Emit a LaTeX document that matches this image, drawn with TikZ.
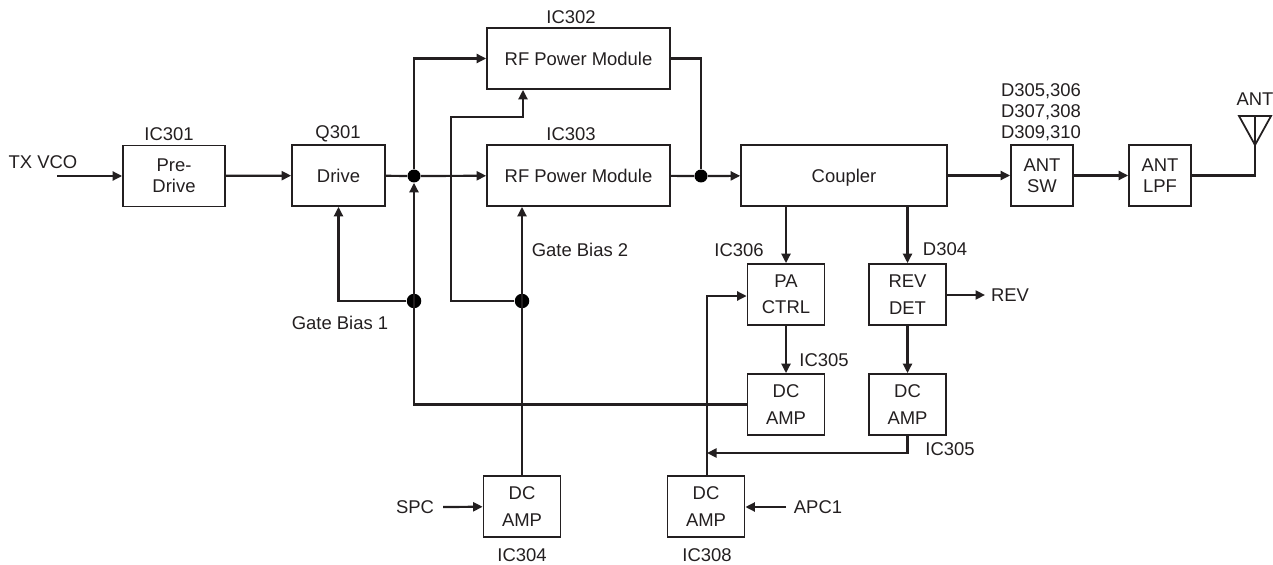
\documentclass[tikz,border=0pt]{standalone}
\usepackage{fontspec}
\setmainfont{Liberation Sans}
\usetikzlibrary{arrows.meta}
\definecolor{ink}{HTML}{231F20}
\tikzset{
  block/.style={draw=ink,text=ink,line width=1pt,inner sep=0pt,minimum height=1.22cm,align=center},
  small/.style={block,minimum width=1.54cm},
  wide/.style={block,minimum width=3.66cm},
  single/.style={text height=0.27cm,text depth=0pt},
  close/.style={font=\fontsize{10.5}{12}\selectfont},
  tag/.style={text=ink,inner sep=0pt,align=center},
  dot/.style={circle,fill=black,inner sep=0pt,minimum size=0.26cm},
  bigdot/.style={dot,minimum size=0.29cm},
  wire/.style={draw=ink,line width=1.25pt},
  sig/.style={wire,-{Triangle[length=1.9mm,width=1.8mm]}}
}
\begin{document}
\begin{tikzpicture}[x=0.02cm,y=-0.02cm,font=\fontsize{10.5}{15}\selectfont]
\useasboundingbox (0,0) rectangle (1273,564);

% Main transmit chain
\node[block,close,minimum width=2.04cm] (predrive) at (174,176) {Pre-\\Drive};
\node[block,single,minimum width=1.86cm] (drive) at (338.5,175.5) {Drive};
\node[wide,single] (rfa) at (578.5,58.5) {RF Power Module};
\node[wide,single] (rfb) at (578.5,175.5) {RF Power Module};
\node[block,single,minimum width=4.12cm] (coupler) at (844,175.5) {Coupler};
\node[small,close,minimum width=1.24cm] (antsw) at (1042,175.5) {ANT\\SW};
\node[small,close,minimum width=1.24cm] (antlpf) at (1160,175.5) {ANT\\LPF};

% Control blocks
\node[small] (pactrl) at (786,294.5) {PA\\CTRL};
\node[small] (revdet) at (907.5,294.5) {REV\\DET};
\node[small] (dcampa) at (786,404.5) {DC\\AMP};
\node[small] (dcampb) at (907.5,404.5) {DC\\AMP};
\node[small] (dcampc) at (522,506.5) {DC\\AMP};
\node[small] (dcampd) at (706,506.5) {DC\\AMP};

% Junctions
\node[dot] (ja) at (414,176) {};
\node[dot] (jb) at (701,176) {};
\node[bigdot] (jc) at (414,301) {};
\node[bigdot] (jd) at (522,301) {};

% Free ends and bends
\coordinate (txin) at (57,176);
\coordinate (spcin) at (443,507);
\coordinate (apcin) at (786,507);
\coordinate (revout) at (985,295);
\coordinate (feed) at (707,453);
\coordinate (anta) at (1239,116);
\coordinate (antb) at (1255,116);
\coordinate (antc) at (1271,116);
\coordinate (antd) at (1255,145);

% Labels
\node[tag] (ltx) at (43,162) {TX VCO};
\node[tag] (la) at (169,134) {IC301};
\node[tag] (lb) at (338,134) {Q301};
\node[tag] (lc) at (571,17) {IC302};
\node[tag] (ld) at (571,134) {IC303};
\node[tag,close] (le) at (1041,112) {D305,306\\D307,308\\D309,310};
\node[tag] (lant) at (1255,99) {ANT};
\node[tag] (lf) at (739,250) {IC306};
\node[tag] (lg) at (945,249) {D304};
\node[tag] (lh) at (824,360) {IC305};
\node[tag] (li) at (950,449) {IC305};
\node[tag] (lj) at (707,555) {IC308};
\node[tag] (lk) at (522,555) {IC304};
\node[tag] (lbias) at (340,323) {Gate Bias 1};
\node[tag] (lbiasb) at (580,250) {Gate Bias 2};
\node[tag] (lrev) at (1010,295) {REV};
\node[tag] (lspc) at (415,507) {SPC};
\node[tag] (lapc) at (818,507) {APC1};

% Forward path
\draw[sig] (txin) -- (predrive.west |- txin);
\draw[sig] (predrive) -- (drive);
\draw[wire] (drive) -- (ja);
\draw[sig] (ja) -- (rfb);
\draw[sig] (ja) |- (rfa.west);
\draw[wire] (rfa.east) -| (jb);
\draw[wire] (rfb) -- (jb);
\draw[sig] (jb) -- (coupler);
\draw[sig] (coupler) -- (antsw);
\draw[sig] (antsw) -- (antlpf);

% Antenna
\draw[wire] (antlpf.east) -| (antb);
\draw[wire,line width=1pt] (anta) -- (antc) -- (antd) -- cycle;

% Gate bias lines
\draw[sig] (dcampa.west) -| (ja);
\draw[sig] (jc) -| (drive.south);
\draw[sig] (dcampc) -- (rfb.south -| dcampc);
\draw[sig] (jd) -- ++(-71,0) |- (523,117) -- (rfa.south -| 523,0);

% Detector and power control
\draw[sig] (coupler.south -| pactrl) -- (pactrl);
\draw[sig] (coupler.south -| revdet) -- (revdet);
\draw[sig] (pactrl) -- (dcampa);
\draw[sig] (revdet) -- (dcampb);
\draw[sig] (revdet.east |- revout) -- (revout);
\draw[sig] (dcampb.south) |- (feed);
\draw[sig] (dcampd.north -| feed) |- (pactrl.west |- 0,296);
\draw[sig] (spcin) -- (dcampc);
\draw[sig] (apcin) -- (dcampd.east |- apcin);
\end{tikzpicture}
\end{document}
